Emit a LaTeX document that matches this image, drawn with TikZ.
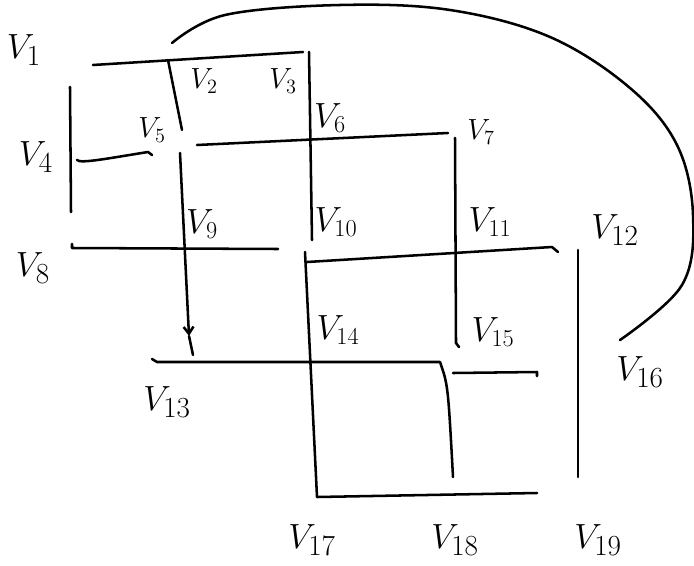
\documentclass[tikz,border=0pt]{standalone}
\usepackage{amsmath}
\usepackage{tikz}
\usetikzlibrary{arrows.meta}

\begin{document}
\begin{tikzpicture}[
        x=0.025cm, y=-0.025cm,
        >={Straight Barb[length=5pt, width=7pt]},
        every node/.style={inner sep=0pt},
        big/.style={font=\fontsize{32}{38}\selectfont},
        mid/.style={font=\fontsize{27}{32}\selectfont},
        small/.style={font=\fontsize{21}{25}\selectfont},
        stroke/.style={line width=1.8pt, line cap=round, line join=round}
    ]
        \useasboundingbox (0,0) rectangle (694,565);

        % vertex labels
        \node[big]   (v1)  at (24,50)   {$V_1$};
        \node[small] (v2)  at (204,81)  {$V_2$};
        \node[small] (v3)  at (283,81)  {$V_3$};
        \node[big]   (v4)  at (36,157)  {$V_4$};
        \node[small] (v5)  at (152,130) {$V_5$};
        \node[mid]   (v6)  at (330,118) {$V_6$};
        \node[small] (v7)  at (481,132) {$V_7$};
        \node[big]   (v8)  at (33,268)  {$V_8$};
        \node[mid]   (v9)  at (202,224) {$V_9$};
        \node[mid]   (v10) at (336,222) {$V_{10}$};
        \node[mid]   (v11) at (490,222) {$V_{11}$};
        \node[big]   (v12) at (615,230) {$V_{12}$};
        \node[big]   (v13) at (167,402) {$V_{13}$};
        \node[mid]   (v14) at (338,330) {$V_{14}$};
        \node[mid]   (v15) at (493,332) {$V_{15}$};
        \node[big]   (v16) at (640,372) {$V_{16}$};
        \node[big]   (v17) at (312,540) {$V_{17}$};
        \node[big]   (v18) at (455,540) {$V_{18}$};
        \node[big]   (v19) at (598,540) {$V_{19}$};

        % stroke ends
        \coordinate (top1) at (93,65);   \coordinate (top2) at (303,52);
        \coordinate (two1) at (168,60);  \coordinate (two2) at (182,130);
        \coordinate (six1) at (309,52);  \coordinate (six2) at (312,240);
        \coordinate (four1) at (70,87);  \coordinate (four2) at (71,212);
        \coordinate (five1) at (77,160); \coordinate (five2) at (152,155);
        \coordinate (sev1) at (197,145); \coordinate (sev2) at (448,133);
        \coordinate (sev3) at (455,138); \coordinate (sev4) at (456,343);
        \coordinate (nine1) at (180,153); \coordinate (nine2) at (189,336);
        \coordinate (nine3) at (193,355);
        \coordinate (eig1) at (72,248);  \coordinate (eig2) at (278,249);
        \coordinate (ele1) at (307,262); \coordinate (ele2) at (552,247);
        \coordinate (twe1) at (578,250); \coordinate (twe2) at (578,477);
        \coordinate (fou1) at (305,252); \coordinate (fou2) at (317,497);
        \coordinate (fou3) at (537,493);
        \coordinate (thi1) at (157,362); \coordinate (thi2) at (440,362);
        \coordinate (thi3) at (453,477);
        \coordinate (fif1) at (453,373); \coordinate (fif2) at (537,372);
        \coordinate (arc1) at (172,43);  \coordinate (arc2) at (620,340);

        \draw[stroke] (top1) -- (top2);
        \draw[stroke] (two1) -- (two2);
        \draw[stroke] (six1) -- (six2);
        \draw[stroke] (four1) -- (four2);
        \draw[stroke] (five1) .. controls (80,164) and (110,158) .. (148,152) -- (five2);
        \draw[stroke] (sev1) -- (sev2);
        \draw[stroke] (sev3) -- (sev4) -- ++(3,4);
        \draw[stroke, ->] (nine1) -- (nine2);
        \draw[stroke] (nine2) -- (nine3);
        \draw[stroke] (eig1) ++(0,-4) -- (eig1) -- (eig2);
        \draw[stroke] (ele1) -- (ele2) -- ++(6,5);
        \draw[stroke] (twe1) -- (twe2);
        \draw[stroke] (fou1) -- (fou2) -- (fou3);
        \draw[stroke] (thi1) ++(-5,-3) -- (thi1) -- (thi2) .. controls (448,385) .. (thi3);
        \draw[stroke] (fif1) -- (fif2) -- ++(0,4);
        \draw[stroke] plot[smooth, tension=0.6] coordinates {(arc1) (225,15)
            (340,5) (450,10) (550,37) (630,88) (677,145) (693,215)
            (682,285) (arc2)};
\end{tikzpicture}
\end{document}
